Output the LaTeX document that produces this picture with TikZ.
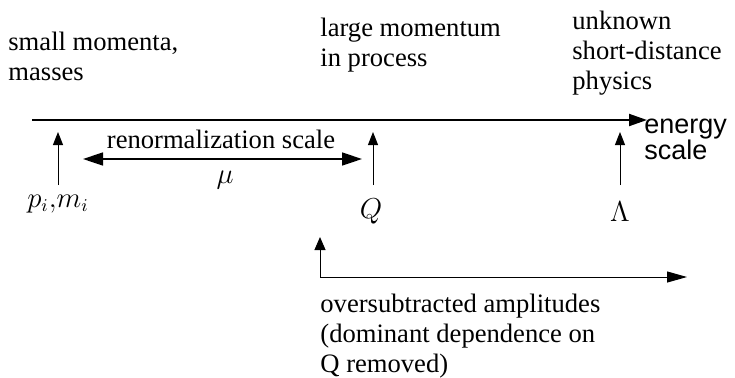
\documentclass[tikz,border=0pt]{standalone}
\usepackage{fontspec}
\setmainfont{Liberation Serif}
\newfontfamily\helv{Liberation Sans}
\usetikzlibrary{arrows.meta,positioning}

\tikzset{
  txt/.style={inner sep=0pt,align=left,font=\fontsize{13.3}{15}\selectfont},
  sans/.style={inner sep=0pt,align=left,font=\helv\fontsize{13.5}{13}\selectfont},
  mth/.style={inner sep=0pt,font=\fontsize{13.3}{15}\selectfont},
  axisline/.style={line width=1pt,-{Triangle[length=9pt,width=6pt]}},
  tick/.style={line width=0.5pt,-{Triangle[length=6.5pt,width=5pt]}},
  twoway/.style={line width=0.8pt,{Triangle[length=10pt,width=6.5pt]}-{Triangle[length=10pt,width=6.5pt]}},
  bracket/.style={line width=0.5pt,{Triangle[length=6.5pt,width=5.5pt]}-{Triangle[length=10pt,width=5.5pt]}}
}

\begin{document}
\begin{tikzpicture}[x=0.5pt,y=-0.5pt]
\useasboundingbox (0,0) rectangle (735,377);

% energy axis
\coordinate (A0) at (32,120);
\coordinate (A1) at (647,120);

% feet and tips of the scale markers
\coordinate (P0) at (58,185);  \coordinate (P1) at (58,132);
\coordinate (Q0) at (373,185); \coordinate (Q1) at (373,132);
\coordinate (L0) at (620,185); \coordinate (L1) at (620,132);

% renormalization range
\coordinate (R0) at (83,159);
\coordinate (R1) at (362,159);

% oversubtracted bracket
\coordinate (B0) at (320,277);
\coordinate (B1) at (320,237);
\coordinate (B2) at (687,277);

% base = last line of each block
\node[txt,anchor=base west] (small) at (8,80) {small momenta,\\masses};
\node[txt,anchor=base west] (large) at (320,66) {large momentum\\in process};
\node[txt,anchor=base west] (unknown) at (572,89) {unknown\\short-distance\\physics};
\node[sans,anchor=base west] (energy) at (644,159) {energy\\scale};

\draw[axisline] (A0) -- (A1);

\draw[tick] (P0) -- (P1);
\draw[tick] (Q0) -- (Q1);
\draw[tick] (L0) -- (L1);

\draw[twoway] (R0) -- (R1);
\node[txt,anchor=base] (renorm) at (221,148) {renormalization scale};
\node[mth,anchor=base] (mu) at (225,183) {$\mu$};

\node[mth,anchor=base] (pm) at (58,207) {$p_i{,}m_i$};
\node[mth,anchor=base] (Q) at (371,218) {$Q$};
\node[mth,anchor=base] (Lam) at (620,221) {$\Lambda$};

\draw[bracket] (B1) -- (B0) -- (B2);
\node[txt,anchor=base west] (over) at (320,372)
  {oversubtracted amplitudes\\(dominant dependence on\\Q removed)};

\end{tikzpicture}
\end{document}
